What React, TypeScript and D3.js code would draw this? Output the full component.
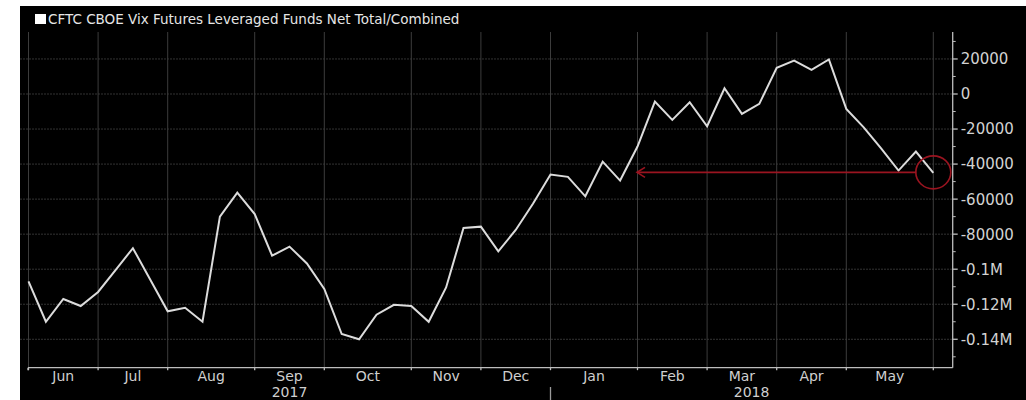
import React from "react";
import * as d3 from "d3";

const weeks: string[] = [
  "2017-06-06","2017-06-13","2017-06-20","2017-06-27",
  "2017-07-04","2017-07-11","2017-07-18","2017-07-25",
  "2017-08-01","2017-08-08","2017-08-15","2017-08-22","2017-08-29",
  "2017-09-05","2017-09-12","2017-09-19","2017-09-26",
  "2017-10-03","2017-10-10","2017-10-17","2017-10-24","2017-10-31",
  "2017-11-07","2017-11-14","2017-11-21","2017-11-28",
  "2017-12-05","2017-12-12","2017-12-19","2017-12-26",
  "2018-01-02","2018-01-09","2018-01-16","2018-01-23","2018-01-30",
  "2018-02-06","2018-02-13","2018-02-20","2018-02-27",
  "2018-03-06","2018-03-13","2018-03-20","2018-03-27",
  "2018-04-03","2018-04-10","2018-04-17","2018-04-24",
  "2018-05-01","2018-05-08","2018-05-15","2018-05-22","2018-05-29",
  "2018-06-05",
];

const netPositions: number[] = [
  -107000, -130000, -117000, -121000,
  -113000, -100500, -88000, -106000,
  -124000, -122000, -130000, -70000, -56300,
  -68500, -92300, -87100, -96700,
  -111300, -137000, -140000, -126000, -120300,
  -121000, -130000, -110400, -76500,
  -75700, -89800, -77600, -62500,
  -46000, -47300, -58400, -38600, -49400,
  -30000, -4300, -14800, -4700,
  -18400, 3300, -11300, -5600,
  15000, 19100, 13800, 19700,
  -8500, -19000, -31000, -43700, -32900,
  -45000,
];

const monthNames: string[] = ["Jan","Feb","Mar","Apr","May","Jun","Jul","Aug","Sep","Oct","Nov","Dec"];
const yTickValues: number[] = [20000, 0, -20000, -40000, -60000, -80000, -100000, -120000, -140000];
const yTickLabels: string[] = ["20000", "0", "-20000", "-40000", "-60000", "-80000", "-0.1M", "-0.12M", "-0.14M"];
const yMinorValues: number[] = [30000, 10000, -10000, -30000, -50000, -70000, -90000, -110000, -130000, -150000];
const legendLabel = "CFTC CBOE Vix Futures Leveraged Funds Net Total/Combined";
const markedIndex = 52;
const arrowFromIndex = 35;

export default function App() {
  const W = 1026, H = 400;
  const left = 20, top = 6;
  const plotTop = 32, plotBottom = 367.7, axisX = 952.7;

  const x = d3.scalePoint<string>().domain(weeks).range([28.5, 28.5 + 52 * 17.4]);
  const y = d3.scaleLinear().domain([-156220, 35390]).range([plotBottom, plotTop]);

  const parse = d3.timeParse("%Y-%m-%d");
  const dates = weeks.map((w) => parse(w)!);
  const monthStarts: number[] = [];
  dates.forEach((d, i) => {
    if (i === 0 || d.getMonth() !== dates[i - 1].getMonth()) monthStarts.push(i);
  });
  const monthLabels = monthStarts.slice(0, -1).map((s, k) => {
    const e = monthStarts[k + 1];
    return { x: (x(weeks[s])! + x(weeks[e])!) / 2, label: monthNames[dates[s].getMonth()] };
  });
  const yearStartIdx = dates.findIndex((d, i) => i > 0 && d.getFullYear() !== dates[i - 1].getFullYear());
  const yearX = x(weeks[yearStartIdx])!;
  const years = [
    { x: (x(weeks[0])! + yearX) / 2, label: String(dates[0].getFullYear()) },
    { x: (yearX + axisX) / 2, label: String(dates[yearStartIdx].getFullYear()) },
  ];

  const line = d3
    .line<number>()
    .x((_, i) => x(weeks[i])!)
    .y((v) => y(v));

  const mx = x(weeks[markedIndex])!;
  const my = y(netPositions[markedIndex]) - 0.5;
  const ax0 = x(weeks[arrowFromIndex])! - 0.5;
  const red = "#9a1420";
  const font = "'DejaVu Sans', Verdana, sans-serif";

  return (
    <div style={{ position: "fixed", left: 0, top: 0, width: W, height: H }}>
      <svg width={W} height={H} style={{ display: "block" }}>
        <rect x={0} y={0} width={W} height={H} fill="#ffffff" />
        <rect x={left} y={top} width={W - left} height={H - top} fill="#000000" />

        {/* horizontal grid */}
        {yTickValues.map((v) => (
          <line key={"hg" + v} x1={left} x2={axisX} y1={y(v)} y2={y(v)} stroke="#333333" strokeWidth={1} strokeDasharray="2,1" />
        ))}
        {/* vertical grid */}
        {monthStarts.map((i) => (
          <line key={"vg" + i} x1={x(weeks[i])} x2={x(weeks[i])} y1={plotTop} y2={plotBottom} stroke="#3c3c3c" strokeWidth={1} />
        ))}

        {/* axes */}
        <line x1={28} x2={axisX} y1={plotBottom} y2={plotBottom} stroke="#bdbdbd" strokeWidth={1.3} />
        <line x1={axisX} x2={axisX} y1={plotTop} y2={plotBottom} stroke="#bdbdbd" strokeWidth={1.3} />
        {monthStarts.map((i) => (
          <line key={"xt" + i} x1={x(weeks[i])} x2={x(weeks[i])} y1={plotBottom} y2={plotBottom + 2.5} stroke="#bdbdbd" strokeWidth={1.3} />
        ))}
        <line x1={28} x2={28} y1={plotBottom} y2={plotBottom + 2.5} stroke="#bdbdbd" strokeWidth={1.3} />
        {yTickValues.map((v) => (
          <line key={"yt" + v} x1={axisX} x2={axisX + 5} y1={y(v)} y2={y(v)} stroke="#bdbdbd" strokeWidth={1.3} />
        ))}
        {yMinorValues.map((v) => (
          <line key={"ym" + v} x1={axisX} x2={axisX + 3} y1={y(v)} y2={y(v)} stroke="#bdbdbd" strokeWidth={1} />
        ))}
        {yTickValues.map((v, k) => (
          <text key={"yl" + v} x={axisX + 8} y={y(v)} dy="0.36em" fill="#d2d2d2" fontFamily={font} fontSize={15}>
            {yTickLabels[k]}
          </text>
        ))}

        {monthLabels.map((m) => (
          <text key={"ml" + m.x} x={m.x} y={381} textAnchor="middle" fill="#cfcfcf" fontFamily={font} fontSize={14}>
            {m.label}
          </text>
        ))}
        <line x1={yearX} x2={yearX} y1={387} y2={H} stroke="#9a9a9a" strokeWidth={1.3} />
        {years.map((yy) => (
          <text key={"yr" + yy.label} x={yy.x} y={397} textAnchor="middle" fill="#cfcfcf" fontFamily={font} fontSize={14}>
            {yy.label}
          </text>
        ))}

        {/* data line */}
        <path d={line(netPositions) || ""} fill="none" stroke="#dcdcdc" strokeWidth={2} strokeLinejoin="miter" />

        {/* annotation */}
        <line x1={ax0} x2={mx - 17} y1={my} y2={my} stroke={red} strokeWidth={1.6} />
        <path d={`M${ax0 + 8},${my - 5} L${ax0},${my} L${ax0 + 8},${my + 5}`} fill="none" stroke={red} strokeWidth={1.6} />
        <ellipse cx={mx} cy={my} rx={17.5} ry={16.5} fill="none" stroke={red} strokeWidth={1.6} />

        {/* legend */}
        <rect x={35} y={14} width={11} height={10} fill="#ffffff" />
        <text x={48} y={24} fill="#e6e6e6" fontFamily={font} fontSize={13.5}>
          {legendLabel}
        </text>
      </svg>
    </div>
  );
}
